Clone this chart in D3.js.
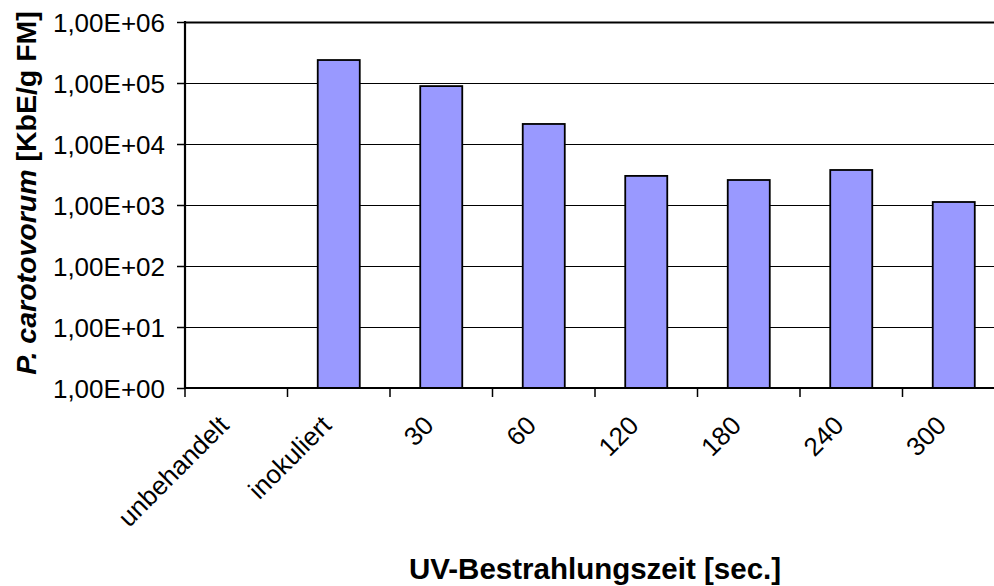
<!DOCTYPE html>
<html>
<head>
<meta charset="utf-8">
<style>
    body { margin: 0; background: #fff; }
    text { font-family: "Liberation Sans", Arial, sans-serif; }
</style>
</head>
<body>
<svg width="994" height="586"></svg>
<script src="https://d3js.org/d3.v7.min.js"></script>
<script>

// chart data
let categories = ["unbehandelt", "inokuliert", "30", "60", "120", "180", "240", "300"]
let values = [null, 238000, 89000, 21300, 3000, 2570, 3750, 1120]
let yTicks = [1, 10, 100, 1000, 10000, 100000, 1000000]

let svg = d3.select("svg")

let plotLeft = 185, plotRight = 1005, plotTop = 22, plotBottom = 388

let y = d3.scaleLog().domain([1, 1e6]).range([plotBottom, plotTop])

// slots for ticks and labels
let xSlot = d3.scaleBand().domain(categories).range([plotLeft, plotRight]).padding(0)
// bars, centred in each slot
let xBar = d3.scaleBand().domain(categories).range([plotLeft, plotRight])
    .paddingInner(0.59).paddingOuter(0.295)

// gridlines
svg.append("g")
    .selectAll("line")
    .data(yTicks.slice(1))
    .enter()
    .append("line")
    .attr("x1", plotLeft)
    .attr("x2", plotRight)
    .attr("y1", d => Math.round(y(d)) + 0.5)
    .attr("y2", d => Math.round(y(d)) + 0.5)
    .style("stroke", "#000")
    .style("stroke-width", d => d === 1e6 ? 2 : 1)

// bars
svg.append("g")
    .selectAll("rect")
    .data(categories.map((c, i) => ({ cat: c, v: values[i] })).filter(d => d.v != null))
    .enter()
    .append("rect")
    .attr("x", d => xBar(d.cat))
    .attr("width", xBar.bandwidth())
    .attr("y", d => y(d.v))
    .attr("height", d => plotBottom - y(d.v))
    .style("fill", "#9999ff")
    .style("stroke", "#000")
    .style("stroke-width", 1.8)

// y axis
let yAxis = d3.axisLeft(y)
    .tickValues(yTicks)
    .tickSize(8)
    .tickPadding(12)
    .tickFormat(d => "1,00E+" + String(Math.round(Math.log10(d))).padStart(2, "0"))

let gy = svg.append("g")
    .attr("transform", "translate(" + plotLeft + ",0)")
    .call(yAxis)
gy.select(".domain").remove()
gy.selectAll(".tick line").style("stroke", "#000").style("stroke-width", 1.5)
gy.selectAll("text")
    .style("font-size", "26px")
    .style("font-family", "'Liberation Sans', Arial, sans-serif")
    .style("fill", "#000")
    .attr("dy", "0.36em")

svg.append("line")
    .attr("x1", plotLeft).attr("x2", plotLeft)
    .attr("y1", plotTop - 1).attr("y2", plotBottom + 1)
    .style("stroke", "#000").style("stroke-width", 2.2)

// x axis
svg.append("line")
    .attr("x1", plotLeft).attr("x2", plotRight)
    .attr("y1", plotBottom).attr("y2", plotBottom)
    .style("stroke", "#000").style("stroke-width", 2.2)

let bounds = categories.map(c => xSlot(c)).concat([plotRight])
svg.append("g")
    .selectAll("line")
    .data(bounds)
    .enter()
    .append("line")
    .attr("x1", d => d).attr("x2", d => d)
    .attr("y1", plotBottom).attr("y2", plotBottom + 9)
    .style("stroke", "#000").style("stroke-width", 1.5)

svg.append("g")
    .selectAll("text")
    .data(categories)
    .enter()
    .append("text")
    .attr("transform", d => "translate(" + (xSlot(d) + xSlot.bandwidth() / 2 - 6) + "," + 427 + ") rotate(-45)")
    .attr("text-anchor", "end")
    .style("font-size", "26px")
    .text(d => d)

// axis titles
let yTitle = svg.append("text")
    .attr("transform", "translate(36,193) rotate(-90)")
    .attr("text-anchor", "middle")
    .style("font-size", "28.5px")
    .style("font-weight", "bold")
yTitle.append("tspan").style("font-style", "italic").text("P. carotovorum")
yTitle.append("tspan").text(" [KbE/g FM]")

svg.append("text")
    .attr("x", (plotLeft + plotRight) / 2)
    .attr("y", 579)
    .attr("text-anchor", "middle")
    .style("font-size", "29.5px")
    .style("font-weight", "bold")
    .text("UV-Bestrahlungszeit [sec.]")

</script>
</body>
</html>
